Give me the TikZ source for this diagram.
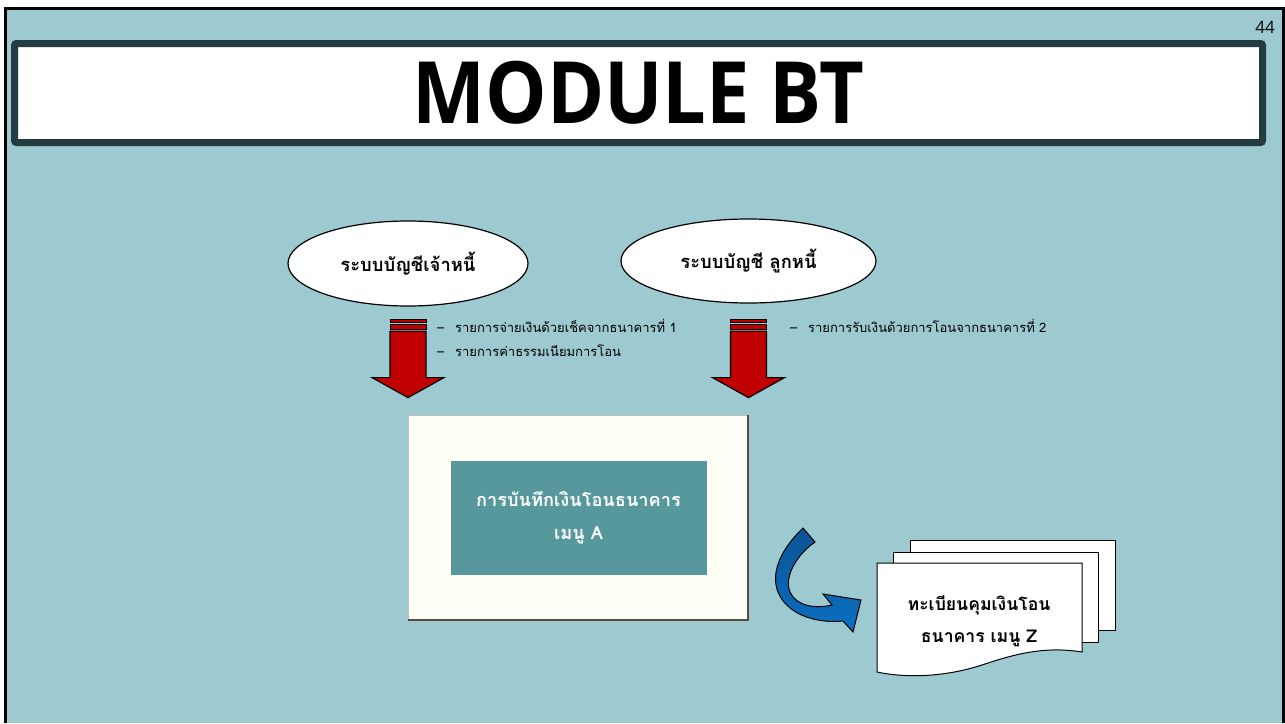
\documentclass[tikz,border=0pt]{standalone}
\usepackage{fontspec}
\newfontfamily\thaifont[Script=Thai]{Loma}
\newfontfamily\titlefont{Open Sans}
\usetikzlibrary{shapes.geometric, positioning, calc}

\definecolor{slidebg}{HTML}{9DCAD1}
\definecolor{titleframe}{HTML}{253B42}
\definecolor{menuteal}{HTML}{56989C}
\definecolor{cream}{HTML}{FFFFF5}
\definecolor{arrowred}{HTML}{C00000}
\definecolor{darkblue}{HTML}{0B5394}
\definecolor{lightblue}{HTML}{0A70C2}

\begin{document}
\begin{tikzpicture}[
    x=1pt, y=-1pt,
    sysnode/.style={draw, fill=white, ellipse, line width=1.2pt, inner sep=0pt, minimum width=240pt, minimum height=85pt, font=\thaifont\bfseries\fontsize{18.4}{22}\selectfont},
    itemtext/.style={inner sep=0pt, anchor=base west, font=\thaifont\fontsize{13}{16}\selectfont},
    blockarrow/.style={draw=black, fill=arrowred, line width=1.2pt, line join=miter},
    stripe/.style={draw=black, fill=arrowred, line width=0.8pt},
    menubox/.style={fill=menuteal, minimum width=256pt, minimum height=114pt, align=center, text=white, font=\thaifont\bfseries\fontsize{18.2}{33}\selectfont},
    docpage/.style={draw=black, fill=white, line width=1pt, minimum width=205pt, minimum height=90pt},
    doctext/.style={align=center, font=\thaifont\bfseries\fontsize{17.6}{32}\selectfont},
  ]

  % --- Slide frame ---
  \useasboundingbox (0,0) rectangle (1285,723);
  \fill[slidebg] (5.5,8) rectangle (1283.5,723);
  \draw[line width=3pt] (5.5,723) -- (5.5,8) -- (1283.5,8) -- (1283.5,723);

  % --- Title ---
  \node[draw=titleframe, line width=7pt, fill=white, rounded corners=2pt, inner sep=0pt, minimum width=1248pt, minimum height=99pt] (title) at (638.5,93) {};
  \node[font=\titlefont\bfseries\fontsize{86}{86}\selectfont, inner sep=0pt] (titletext) at (title.center) {\scalebox{0.9}[1]{MODULE BT}};
  \node[font=\titlefont\fontsize{17}{17}\selectfont, inner sep=0pt] (pagenum) at (1265,27) {44};

  % --- Source systems ---
  \node[sysnode] (payable) at (408,263.5) {ระบบบัญชีเจ้าหนี้};
  \node[sysnode, minimum width=255pt, minimum height=84pt] (receivable) at (748.5,261) {ระบบบัญชี ลูกหนี้};

  % --- Block arrows ---
  \coordinate[below=24.5pt of payable] (payarr);
  \coordinate[below=27.5pt of receivable] (recarr);
  \foreach \src in {payarr, recarr} {
    \draw[blockarrow] (\src) ++(-18,0) -- ++(0,46.5) -- ++(-18,0) -- ++(36,20) -- ++(36,-20) -- ++(-18,0) -- ++(0,-46.5) -- cycle;
    \draw[stripe] (\src) ++(-18,-12) rectangle ++(36,3);
    \draw[stripe] (\src) ++(-18,-7) rectangle ++(36,5);
  }

  % --- Item lists ---
  \node[itemtext] (payitemA) at (437,332) {\makebox[18pt][l]{–}รายการจ่ายเงินด้วยเช็คจากธนาคารที่ 1};
  \node[itemtext] (payitemB) at (437,356) {\makebox[18pt][l]{–}รายการค่าธรรมเนียมการโอน};
  \node[itemtext] (recitem) at (790,332) {\makebox[18pt][l]{–}รายการรับเงินด้วยการโอนจากธนาคารที่ 2};

  % --- Entry screen ---
  \node[draw=gray!50, fill=cream, minimum width=341pt, minimum height=206pt, inner sep=0pt] (entrybox) at (578.5,518) {};
  \draw[gray!60!black, line width=2.5pt] ([xshift=-1.25pt]entrybox.north east) -- ([shift={(-1.25pt,1.25pt)}]entrybox.south east) -- ([yshift=1.25pt]entrybox.south west);
  \node[menubox] (menuA) at (entrybox.center) {การบันทึกเงินโอนธนาคาร\\เมนู A};

  % --- Curved output arrow ---
  \draw[line width=1pt, top color=darkblue, bottom color=lightblue, line join=miter]
    (803,528) .. controls (782,548) and (770,572) .. (778,592)
    .. controls (786,612) and (812,624) .. (843,621)
    -- (853,632) -- (861,600) -- (823,594) -- (832,605)
    .. controls (815,609) and (796,606) .. (790,592)
    .. controls (784,578) and (795,556) .. (815,542) -- cycle;

  % --- Report pages ---
  \node[docpage] (pageback) at (1012.5,585) {};
  \node[docpage] (pagemid) at (995.5,597) {};
  \draw[line width=1pt, fill=white] (877,563) -- (1082,563) -- (1082,652)
    .. controls (1045,646) and (1015,654) .. (985,664)
    .. controls (950,676) and (910,679) .. (877,672) -- cycle;
  \node[doctext] (reportZ) at (979,621) {ทะเบียนคุมเงินโอน\\ธนาคาร เมนู Z};

\end{tikzpicture}
\end{document}
